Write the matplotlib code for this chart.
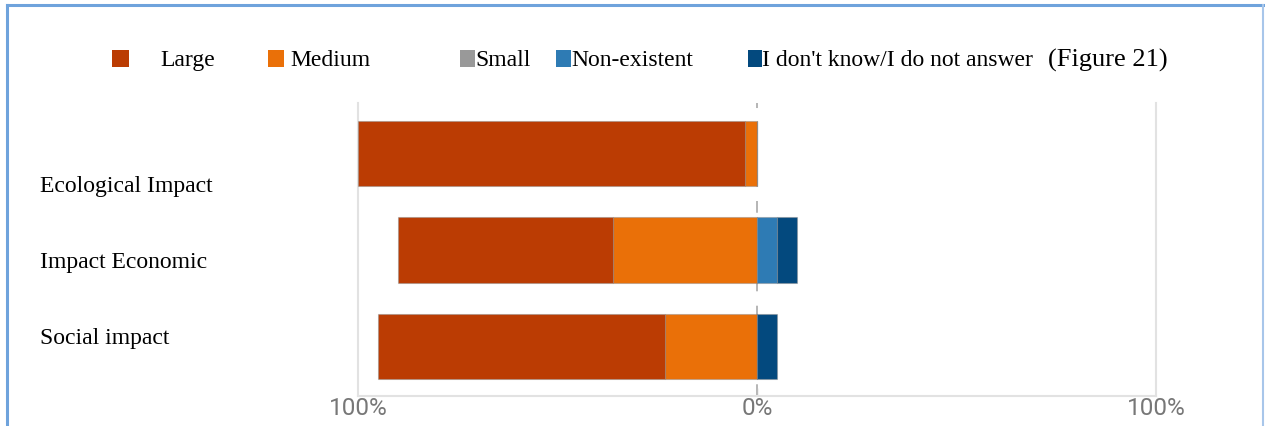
import matplotlib
matplotlib.use("Agg")
import matplotlib.pyplot as plt
from matplotlib.patches import Rectangle
from matplotlib.lines import Line2D
import numpy as np

# ---- data -------------------------------------------------------------
categories = ["Ecological Impact", "Impact Economic", "Social impact"]
large = [97, 54, 72]
medium = [3, 36, 23]
small = [0, 0, 0]
non_existent = [0, 5, 0]
dont_know = [0, 5, 5]

series_names = ["Large", "Medium", "Small", "Non-existent",
                "I don't know/I do not answer"]
series_colors = ["#BB3C03", "#EA7008", "#999999", "#2E7BB4", "#03497E"]
tick_values = [-100, 0, 100]
tick_labels = ["100%", "0%", "100%"]
title_note = "(Figure 21)"

# ---- figure -----------------------------------------------------------
W, H = 1265, 426
fig = plt.figure(figsize=(W / 100, H / 100), dpi=100)
fig.patch.set_facecolor("white")

def fx(px):
    return px / W

def fy(py):
    return 1 - py / H

ax = fig.add_axes([fx(358), fy(396), fx(1156) - fx(358), fy(103) - fy(396)])

y = np.arange(len(categories))
bar_h = 0.674
edge = dict(edgecolor=(0.55, 0.55, 0.55, 0.45), linewidth=0.8, zorder=3)

large_a = np.array(large, float)
medium_a = np.array(medium, float)
small_a = np.array(small, float)
non_a = np.array(non_existent, float)
dk_a = np.array(dont_know, float)

# negative side: Medium next to zero, Large beyond it; Small split at zero
half_small = small_a / 2
ax.barh(y, -half_small, left=0, height=bar_h, color=series_colors[2], **edge)
ax.barh(y, -medium_a, left=-half_small, height=bar_h, color=series_colors[1], **edge)
ax.barh(y, -large_a, left=-half_small - medium_a, height=bar_h,
        color=series_colors[0], **edge)
# positive side: Non-existent next to zero, then "don't know"
ax.barh(y, half_small, left=0, height=bar_h, color=series_colors[2], **edge)
ax.barh(y, non_a, left=half_small, height=bar_h, color=series_colors[3], **edge)
ax.barh(y, dk_a, left=half_small + non_a, height=bar_h, color=series_colors[4], **edge)

ax.set_xlim(-100, 100)
ax.set_ylim(2.513, -0.523)

# zero reference line
ax.axvline(0, color="#B0B0B0", linewidth=1.3, linestyle=(0, (6.5, 8)), zorder=1)

ax.spines["top"].set_visible(False)
for s in ["left", "right", "bottom"]:
    ax.spines[s].set_color("#E2E2E2")
    ax.spines[s].set_linewidth(1.5)

ax.set_yticks([])
ax.set_xticks(tick_values)
ax.set_xticklabels(tick_labels, fontsize=17.5, color="#777777",
                   fontfamily="Roboto")
ax.tick_params(axis="x", direction="in", length=6, width=1,
               color="#BBBBBB", pad=0.5)
# only the centre tick mark is visible
for t, v in zip(ax.xaxis.get_major_ticks(), tick_values):
    if v != 0:
        t.tick1line.set_visible(False)

# ---- category labels --------------------------------------------------
serif = "Liberation Serif"
cat_baselines = [192, 268, 344]
for name, by in zip(categories, cat_baselines):
    fig.text(fx(40), fy(by), name, fontsize=17, family=serif,
             va="baseline", ha="left", color="black")

# ---- legend -----------------------------------------------------------
square_x = [112, 268, 460, 556, 748]
square_w = [17, 16, 15, 15, 14]
text_x = [160, 290, 475, 571, 762]
leg_base = 66
for name, col, sx, sw, tx in zip(series_names, series_colors, square_x,
                                 square_w, text_x):
    fig.patches.append(Rectangle((fx(sx), fy(67)), fx(sw), fy(50) - fy(67),
                                 transform=fig.transFigure, facecolor=col,
                                 edgecolor="none"))
    fig.text(fx(tx), fy(leg_base), name, fontsize=17, family=serif,
             va="baseline", ha="left", color="black")
fig.text(fx(1048), fy(leg_base + 1), title_note, fontsize=19, family=serif,
         va="baseline", ha="left", color="black")

# ---- outer frame ------------------------------------------------------
fig.lines.append(Line2D([fx(7), fx(7)], [0, fy(5)], transform=fig.transFigure,
                        color="#6FA3DC", linewidth=2.2))
fig.lines.append(Line2D([fx(7), fx(1263)], [fy(5), fy(5)], transform=fig.transFigure,
                        color="#6FA3DC", linewidth=2.2))
fig.lines.append(Line2D([fx(1263), fx(1263)], [0, fy(5)], transform=fig.transFigure,
                        color="#A8C6EA", linewidth=1.5))

fig.savefig("out.png", dpi=100)
